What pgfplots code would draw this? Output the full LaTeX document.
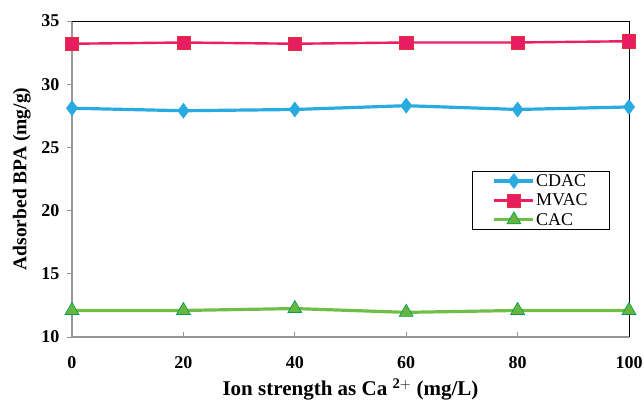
\documentclass[border=0pt]{standalone}
\usepackage{pgfplots}
\pgfplotsset{compat=1.18}
\usepackage{fontspec}
\setmainfont{Liberation Serif}
\definecolor{cdac}{RGB}{41,171,226}
\definecolor{mvacl}{RGB}{236,30,100}
\definecolor{mvacf}{RGB}{232,28,96}
\definecolor{mvace}{RGB}{225,50,60}
\definecolor{cacl}{RGB}{112,190,72}
\definecolor{cacf}{RGB}{104,182,62}
\definecolor{cace}{RGB}{0,160,80}
\definecolor{axgray}{RGB}{150,150,150}
\begin{document}
\begin{tikzpicture}
\begin{axis}[
  scale only axis, width=557pt, height=316pt,
  xmin=0, xmax=100, ymin=10, ymax=35,
  xtick={0,20,40,60,80,100}, ytick={10,15,20,25,30,35},
  xtick pos=bottom, ytick pos=left,
  xtick align=inside, ytick align=outside,
  major tick length=5pt,
  tick style={axgray, line width=0.8pt},
  axis line style={draw=none},
  clip=false,
  /pgf/number format/assume math mode=true,
  ticklabel style={font=\fontsize{18}{20}\selectfont\bfseries},
  xticklabel style={yshift=-16pt},
  yticklabel style={xshift=-4pt},
  xlabel={\textbf{Ion strength as Ca $^{\mathbf{2+}}$ (mg/L)}},
  ylabel={\textbf{Adsorbed BPA (mg/g)}},
  xlabel style={font=\fontsize{21}{23}\selectfont, yshift=-3pt},
  ylabel style={font=\fontsize{19.5}{22}\selectfont, yshift=4pt},
  legend style={at={(610pt-72pt,337pt-171pt)}, anchor=north east, draw=black, line width=0.6pt,
    font=\fontsize{18}{18}\selectfont, row sep=3pt, inner ysep=1.5pt, inner xsep=21pt,
    nodes={inner xsep=1pt, inner ysep=1.5pt}, cells={anchor=west}},
  legend cell align=left,
  legend image code/.code={\draw[#1] (0pt,0pt) -- (39pt,0pt); \draw[#1,mark repeat=1] plot coordinates {(19.5pt,0pt)};},
]
\draw[axgray, line width=1.6pt] (rel axis cs:0,1) -- (rel axis cs:0,0) -- (rel axis cs:1,0);
\draw[black, line width=0.8pt] (rel axis cs:0,1) -- (rel axis cs:1,1) -- (rel axis cs:1,0);
\addplot[cdac, line width=3.2pt, mark=diamond*, mark size=7.5pt, mark options={fill=cdac, draw=cdac, line width=0.5pt}]
  coordinates {(0,28.1) (20,27.9) (40,28.0) (60,28.3) (80,28.0) (100,28.2)};
\addlegendentry{CDAC}
\addplot[mvacl, line width=2.4pt, mark=square*, mark size=6.6pt, mark options={fill=mvacf, draw=mvace, line width=0.6pt}]
  coordinates {(0,33.2) (20,33.3) (40,33.2) (60,33.3) (80,33.3) (100,33.4)};
\addlegendentry{MVAC}
\addplot[cacl, line width=3.2pt, mark=triangle*, mark size=8pt, mark options={fill=cacf, draw=cace, line width=0.7pt}]
  coordinates {(0,12.1) (20,12.1) (40,12.25) (60,11.95) (80,12.1) (100,12.1)};
\addlegendentry{CAC}
\coordinate (bl) at (rel axis cs:0,0);
\coordinate (tr) at (rel axis cs:1,1);
\end{axis}
\pgfresetboundingbox
\path ([xshift=-72pt,yshift=-62pt]bl) rectangle ([xshift=15pt,yshift=21pt]tr);
\end{tikzpicture}
\end{document}
